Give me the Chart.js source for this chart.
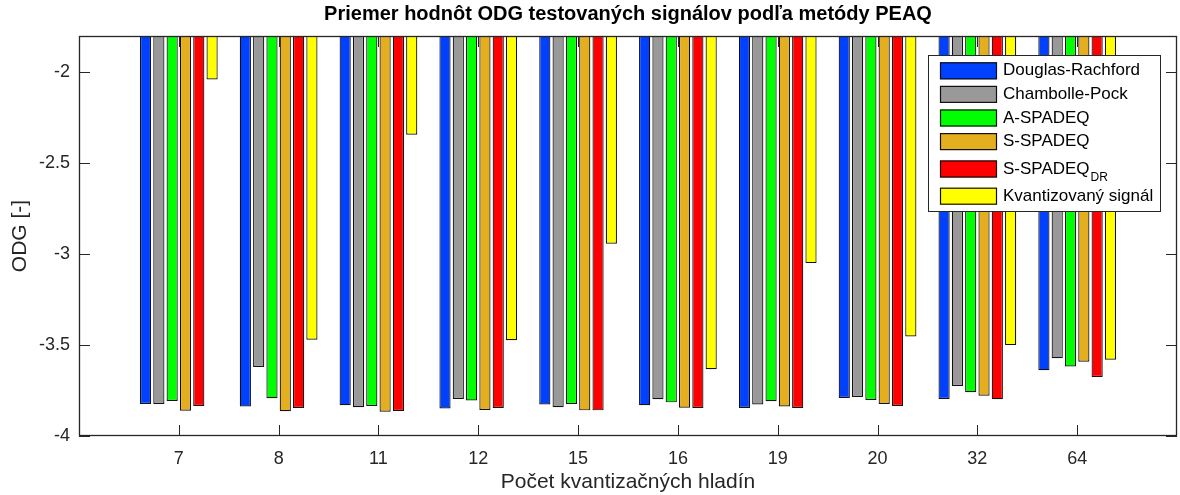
<!DOCTYPE html>
<html lang="sk">
<head>
    <meta charset="UTF-8">
    <title>Priemer hodnôt ODG</title>
    <script src="https://cdn.jsdelivr.net/npm/chart.js"></script>
    <style>
        body { margin: 0; background: #fff; }
    </style>
</head>
<body>
    <canvas id="odgChart" width="1180" height="495"></canvas>
    <script>
        const categories = ['7', '8', '11', '12', '15', '16', '19', '20', '32', '64'];
        const seriesNames = ['Douglas-Rachford', 'Chambolle-Pock', 'A-SPADEQ', 'S-SPADEQ', 'S-SPADEQ_DR', 'Kvantizovaný signál'];
        const seriesColors = ['#0040ff', '#999999', '#00ff00', '#e5ae1e', '#ff0000', '#ffff00'];

        const douglasRachford = [-3.824, -3.838, -3.831, -3.849, -3.827, -3.831, -3.846, -3.791, -3.796, -3.638];
        const chambollePock   = [-3.824, -3.620, -3.842, -3.796, -3.842, -3.798, -3.827, -3.785, -3.725, -3.572];
        const aSpadeq         = [-3.807, -3.792, -3.835, -3.805, -3.824, -3.815, -3.809, -3.802, -3.759, -3.618];
        const sSpadeq         = [-3.861, -3.864, -3.866, -3.857, -3.859, -3.844, -3.838, -3.824, -3.778, -3.592];
        const sSpadeqDR       = [-3.835, -3.846, -3.862, -3.846, -3.859, -3.846, -3.846, -3.835, -3.798, -3.675];
        const quantized       = [-2.039, -3.471, -2.343, -3.473, -2.942, -3.633, -3.049, -3.453, -3.500, -3.581];

        const yTicks = [-4, -3.5, -3, -2.5, -2];

        const axisColor = '#262626';
        const fontFamily = "'Liberation Sans', Arial, sans-serif";

        // pad one empty slot at each end so the axis runs from 0 to 11 like the original
        const labels = ['', ...categories, ''];
        const pad = arr => [null, ...arr, null];
        const allSeries = [douglasRachford, chambollePock, aSpadeq, sSpadeq, sSpadeqDR, quantized];

        const datasets = allSeries.map((vals, i) => ({
            label: seriesNames[i],
            data: pad(vals),
            backgroundColor: seriesColors[i],
            borderColor: '#111111',
            borderWidth: 1.2,
            borderSkipped: false,
            categoryPercentage: 0.8,
            barPercentage: 0.84
        }));

        const boxAndTicks = {
            id: 'boxAndTicks',
            beforeDatasetsDraw(chart) {
                const { ctx, chartArea: a, scales: { x, y } } = chart;
                ctx.save();
                ctx.strokeStyle = axisColor;
                ctx.lineWidth = 1;
                ctx.beginPath();
                x.ticks.forEach((t, i) => {
                    if (!labels[i]) return;
                    const px = Math.round(x.getPixelForTick(i)) + 0.5;
                    ctx.moveTo(px, a.bottom); ctx.lineTo(px, a.bottom - 11);
                    ctx.moveTo(px, a.top); ctx.lineTo(px, a.top + 11);
                });
                y.ticks.forEach((t, i) => {
                    const py = Math.round(y.getPixelForTick(i)) + 0.5;
                    ctx.moveTo(a.left, py); ctx.lineTo(a.left + 11, py);
                    ctx.moveTo(a.right, py); ctx.lineTo(a.right - 11, py);
                });
                ctx.stroke();
                ctx.restore();
            },
            afterDatasetsDraw(chart) {
                const { ctx, chartArea: a } = chart;
                ctx.save();
                ctx.strokeStyle = axisColor;
                ctx.lineWidth = 1.3;
                ctx.strokeRect(Math.round(a.left) + 0.5, Math.round(a.top) + 0.5,
                    Math.round(a.right - a.left) - 1, Math.round(a.bottom - a.top) - 1);
                ctx.restore();
            },
            afterDraw(chart) {
                const { ctx, chartArea: a } = chart;
                ctx.save();
                // title, centred over the axes
                ctx.fillStyle = '#000';
                ctx.font = 'bold 20px ' + fontFamily;
                ctx.textAlign = 'center';
                ctx.textBaseline = 'middle';
                ctx.fillText('Priemer hodnôt ODG testovaných signálov podľa metódy PEAQ', (a.left + a.right) / 2, 14);

                // legend box in the upper right
                const lx = 928, ly = 55, lw = 232, lh = 156;
                ctx.fillStyle = '#fff';
                ctx.fillRect(lx, ly, lw, lh);
                ctx.strokeStyle = axisColor;
                ctx.lineWidth = 1;
                ctx.strokeRect(lx + 0.5, ly + 0.5, lw, lh);

                let rowY = ly + 4;
                chart.data.datasets.forEach(ds => {
                    const [main, sub] = ds.label.split('_');
                    const step = sub ? 31 : 23.6;
                    const cy = rowY + (sub ? 15.6 : step / 2);
                    ctx.fillStyle = ds.backgroundColor;
                    ctx.fillRect(lx + 12, cy - 8.5, 57, 17);
                    ctx.strokeStyle = '#111111';
                    ctx.lineWidth = 1.2;
                    ctx.strokeRect(lx + 12.5, cy - 8, 56, 16);
                    ctx.fillStyle = '#000';
                    ctx.textAlign = 'left';
                    ctx.textBaseline = 'middle';
                    ctx.font = '17px ' + fontFamily;
                    ctx.fillText(main, lx + 75, cy);
                    if (sub) {
                        const w = ctx.measureText(main).width;
                        ctx.font = '12px ' + fontFamily;
                        ctx.fillText(sub, lx + 75 + w + 1, cy + 9);
                    }
                    rowY += step;
                });
                ctx.restore();
            }
        };

        new Chart(document.getElementById('odgChart').getContext('2d'), {
            type: 'bar',
            data: { labels: labels, datasets: datasets },
            options: {
                responsive: false,
                animation: false,
                layout: { padding: { top: 36, right: 3, left: 0, bottom: 0 } },
                plugins: {
                    legend: { display: false },
                    title: { display: false },
                    tooltip: { enabled: false }
                },
                scales: {
                    x: {
                        offset: false,
                        grid: { display: false, drawTicks: false },
                        border: { display: false },
                        ticks: {
                            autoSkip: false,
                            maxRotation: 0,
                            padding: 12,
                            color: axisColor,
                            font: { family: fontFamily, size: 18 }
                        },
                        title: {
                            display: true,
                            text: 'Počet kvantizačných hladín',
                            color: axisColor,
                            padding: { top: 0, bottom: 0 },
                            font: { family: fontFamily, size: 21 }
                        },
                        afterFit(scale) {
                            scale.height = 59;
                            scale.paddingLeft = 0;
                            scale.paddingRight = 0;
                        }
                    },
                    y: {
                        min: -4,
                        max: -1.8,
                        grid: { display: false, drawTicks: false },
                        border: { display: false },
                        afterBuildTicks(scale) {
                            scale.ticks = yTicks.map(v => ({ value: v }));
                        },
                        ticks: {
                            padding: 9,
                            color: axisColor,
                            font: { family: fontFamily, size: 18 },
                            callback: v => String(v)
                        },
                        title: {
                            display: true,
                            text: 'ODG [-]',
                            color: axisColor,
                            padding: { top: 8, bottom: 0 },
                            font: { family: fontFamily, size: 21 }
                        },
                        afterFit(scale) { scale.width = 79; }
                    }
                }
            },
            plugins: [boxAndTicks]
        });
    </script>
</body>
</html>
